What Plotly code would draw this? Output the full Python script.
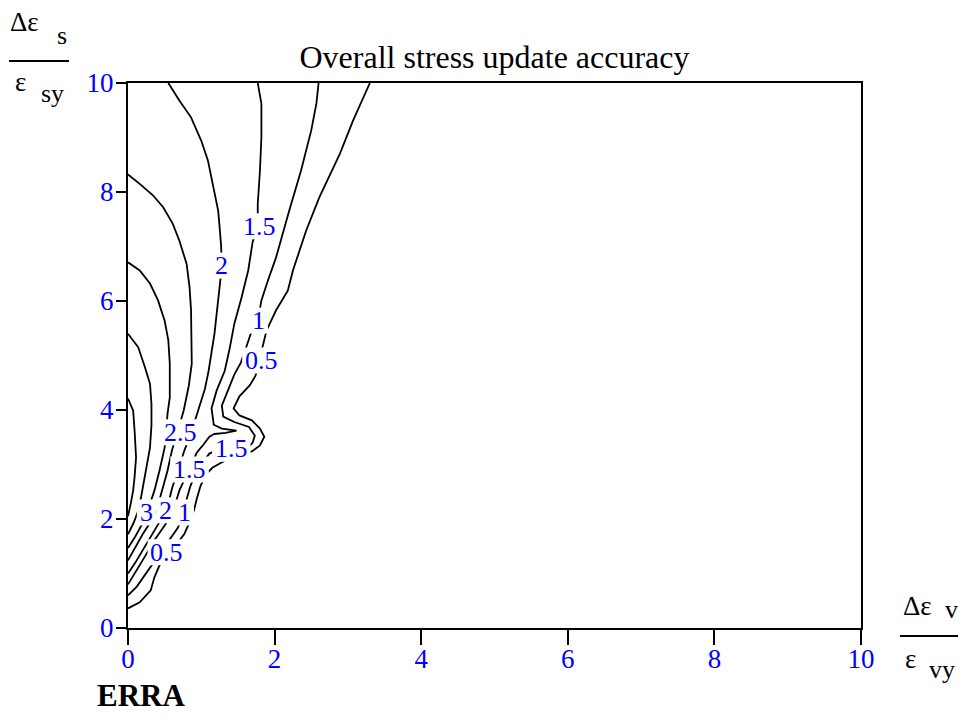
import plotly.graph_objects as go

# ---------------- data (x = Δε_v/ε_vy, y = Δε_s/ε_sy) ----------------
levels = ["0.5", "1", "1.5", "2", "2.5", "3", "3.5", "4"]

c05_x = [3.30, 3.07, 2.89, 2.61, 2.43, 2.25, 2.18, 2.02, 1.89, 1.82, 1.74, 1.66, 1.52, 1.44, 1.52, 1.69, 1.80, 1.86,
         1.80, 1.69, 1.50, 1.32, 1.15, 1.07, 0.99, 0.94, 0.90, 0.84, 0.77, 0.60, 0.43, 0.36, 0.31, 0.16, 0.00]
c05_y = [10.0, 9.31, 8.70, 7.90, 7.29, 6.56, 6.19, 5.83, 5.46, 5.09, 4.63, 4.45, 4.25, 4.03, 3.90, 3.81, 3.66, 3.51,
         3.35, 3.24, 3.17, 3.07, 2.94, 2.83, 2.61, 2.38, 2.16, 1.94, 1.73, 1.42, 1.15, 0.93, 0.69, 0.47, 0.36]

c10_x = [2.60, 2.57, 2.50, 2.36, 2.20, 2.02, 1.91, 1.82, 1.77, 1.70, 1.63, 1.54, 1.45, 1.36, 1.28, 1.30, 1.45, 1.65,
         1.73, 1.70, 1.63, 1.41, 1.21, 1.11, 1.02, 0.92, 0.85, 0.80, 0.77, 0.68, 0.54, 0.39, 0.24, 0.12, 0.00]
c10_y = [10.0, 9.62, 9.13, 8.39, 7.66, 6.80, 6.38, 6.01, 5.64, 5.50, 5.22, 4.87, 4.65, 4.36, 4.08, 3.88, 3.78, 3.69,
         3.53, 3.40, 3.31, 3.28, 3.26, 3.20, 3.04, 2.83, 2.60, 2.36, 2.14, 1.84, 1.57, 1.28, 1.00, 0.76, 0.60]

c15_x = [1.77, 1.82, 1.82, 1.80, 1.77, 1.77, 1.70, 1.64, 1.55, 1.45, 1.39, 1.32, 1.21, 1.14, 1.17, 1.28, 1.48, 1.33,
         1.18, 1.11, 1.02, 0.94, 0.84, 0.76, 0.70, 0.65, 0.60, 0.50, 0.36, 0.23, 0.10, 0.00]
c15_y = [10.0, 9.62, 9.01, 8.39, 7.78, 7.39, 7.08, 6.56, 6.07, 5.58, 5.15, 4.72, 4.36, 4.03, 3.73, 3.66, 3.62, 3.58,
         3.56, 3.51, 3.35, 3.22, 2.93, 2.71, 2.52, 2.30, 2.10, 1.88, 1.61, 1.31, 1.02, 0.80]

c20_x = [0.55, 0.70, 0.86, 1.00, 1.09, 1.16, 1.23, 1.25, 1.27, 1.28, 1.25, 1.21, 1.18, 1.14, 1.10, 1.05, 0.96, 0.87,
         0.77, 0.68, 0.60, 0.53, 0.43, 0.32, 0.21, 0.10, 0.00]
c20_y = [10.0, 9.68, 9.37, 8.94, 8.58, 8.15, 7.66, 7.35, 7.02, 6.63, 6.25, 5.83, 5.40, 5.06, 4.72, 4.39, 3.99, 3.62,
         3.26, 2.89, 2.56, 2.17, 1.94, 1.70, 1.44, 1.20, 1.00]

c25_x = [0.00, 0.16, 0.34, 0.48, 0.61, 0.70, 0.80, 0.84, 0.86, 0.86, 0.87, 0.83, 0.76, 0.68, 0.60, 0.54, 0.47, 0.39,
         0.31, 0.20, 0.10, 0.00]
c25_y = [8.32, 8.15, 7.94, 7.72, 7.42, 7.11, 6.68, 6.25, 5.83, 5.34, 4.85, 4.45, 3.99, 3.62, 3.26, 2.89, 2.56, 2.16,
         1.95, 1.72, 1.48, 1.24]

c30_x = [0.00, 0.16, 0.30, 0.41, 0.50, 0.55, 0.57, 0.57, 0.54, 0.50, 0.43, 0.36, 0.30, 0.25, 0.19, 0.10, 0.00]
c30_y = [6.71, 6.56, 6.32, 6.01, 5.64, 5.28, 4.85, 4.23, 3.94, 3.31, 2.89, 2.52, 2.28, 2.12, 1.90, 1.68, 1.47]

c35_x = [0.00, 0.14, 0.23, 0.30, 0.32, 0.32, 0.30, 0.25, 0.20, 0.15, 0.08, 0.00]
c35_y = [5.40, 5.15, 4.79, 4.48, 4.11, 3.72, 3.31, 2.93, 2.52, 2.19, 1.94, 1.72]

c40_x = [0.00, 0.07, 0.09, 0.11, 0.09, 0.07, 0.04, 0.00]
c40_y = [4.21, 3.99, 3.62, 3.13, 2.77, 2.52, 2.30, 2.05]

label_text = ["1.5", "2", "1", "0.5", "2.5", "1.5", "1.5", "3", "2", "1", "0.5"]
label_x = [1.80, 1.28, 1.78, 1.82, 0.72, 1.41, 0.84, 0.25, 0.51, 0.77, 0.53]
label_y = [7.37, 6.65, 5.64, 4.91, 3.59, 3.29, 2.91, 2.12, 2.16, 2.12, 1.39]

x_ticks = [0, 2, 4, 6, 8, 10]
y_ticks = [0, 2, 4, 6, 8, 10]

title_text = "Overall stress update accuracy"

# ---------------- figure ----------------
SERIF = "Liberation Serif, Times New Roman, serif"
BLUE = "#0000FF"
OFF = 8  # default page body margin

fig = go.Figure()
lines = [(c05_x, c05_y), (c10_x, c10_y), (c15_x, c15_y), (c20_x, c20_y),
         (c25_x, c25_y), (c30_x, c30_y), (c35_x, c35_y), (c40_x, c40_y)]
for (lx, ly), lev in zip(lines, levels):
    fig.add_trace(go.Scatter(x=lx, y=ly, mode="lines", name=lev,
                             line=dict(color="black", width=1.8),
                             hoverinfo="skip", showlegend=False))

# page-pixel layout of the plot area: x 128..861, y 83..628 ; page fits exactly 966x720
W, H = 966 - 2 * OFF, 720 - 2 * OFF
L, T = 128 - OFF, 83 - OFF
PW, PH = 733, 545
R, B = W - L - PW, H - T - PH


def px(x):  # page pixel -> paper x
    return (x - 128) / PW


def py(y):  # page pixel -> paper y
    return (628 - y) / PH


LABEL_SIZE = 26
shapes = []
annotations = []
for t, lx, ly in zip(label_text, label_x, label_y):
    w = LABEL_SIZE * (0.5 * sum(ch.isdigit() for ch in t) + 0.25 * t.count(".")) + 6
    shapes.append(dict(type="rect", xref="x", yref="y", xsizemode="pixel", ysizemode="pixel",
                       xanchor=lx, yanchor=ly, x0=-w / 2, x1=w / 2, y0=-13, y1=13,
                       fillcolor="white", line=dict(width=0), layer="above"))
    annotations.append(dict(x=lx, y=ly, xref="x", yref="y", text=t, showarrow=False,
                            xanchor="center", yanchor="middle",
                            font=dict(family=SERIF, size=LABEL_SIZE, color=BLUE)))

# axis "fraction" labels
AX = 27
for txt, x, y, size in [("Δε", 24, 22, AX), ("s", 62, 36, 26), ("ε", 20, 82, AX), ("sy", 52, 94, 26),
                        ("Δε", 917, 606, AX), ("v", 951, 609, 26), ("ε", 910, 659, AX), ("vy", 942, 670, 26)]:
    annotations.append(dict(x=px(x), y=py(y), xref="paper", yref="paper", text=txt, showarrow=False,
                            xanchor="center", yanchor="middle",
                            font=dict(family=SERIF, size=size, color="black")))
shapes.append(dict(type="line", xref="paper", yref="paper", x0=px(9), x1=px(69), y0=py(61), y1=py(61),
                   line=dict(color="black", width=2)))
shapes.append(dict(type="line", xref="paper", yref="paper", x0=px(900), x1=px(958), y0=py(636), y1=py(636),
                   line=dict(color="black", width=2)))
annotations.append(dict(x=px(141), y=py(695), xref="paper", yref="paper", text="<b>ERRA</b>",
                        showarrow=False, xanchor="center", yanchor="middle",
                        font=dict(family=SERIF, size=31, color="black")))

fig.update_layout(
    width=W, height=H,
    margin=dict(l=L, r=R, t=T, b=B, pad=0),
    paper_bgcolor="white", plot_bgcolor="white",
    title=dict(text=title_text, x=0.5, xref="paper", xanchor="center",
               y=1 - (57 - OFF) / H, yref="container", yanchor="middle",
               font=dict(family=SERIF, size=32, color="black")),
    shapes=shapes, annotations=annotations,
    showlegend=False,
)
fig.update_xaxes(range=[0, 10], tickvals=x_ticks, ticktext=[str(v) for v in x_ticks],
                 showgrid=False, zeroline=False, showline=True, linecolor="black", linewidth=2,
                 mirror=True, ticks="outside", ticklen=15, tickwidth=2, tickcolor="black",
                 ticklabelstandoff=-9,
                 tickfont=dict(family=SERIF, size=27, color=BLUE))
fig.update_yaxes(range=[0, 10], tickvals=y_ticks, ticktext=[str(v) for v in y_ticks],
                 showgrid=False, zeroline=False, showline=True, linecolor="black", linewidth=2,
                 mirror=True, ticks="outside", ticklen=10, tickwidth=2, tickcolor="black",
                 ticklabelstandoff=-3,
                 tickfont=dict(family=SERIF, size=27, color=BLUE))

fig.write_html("out.html")
